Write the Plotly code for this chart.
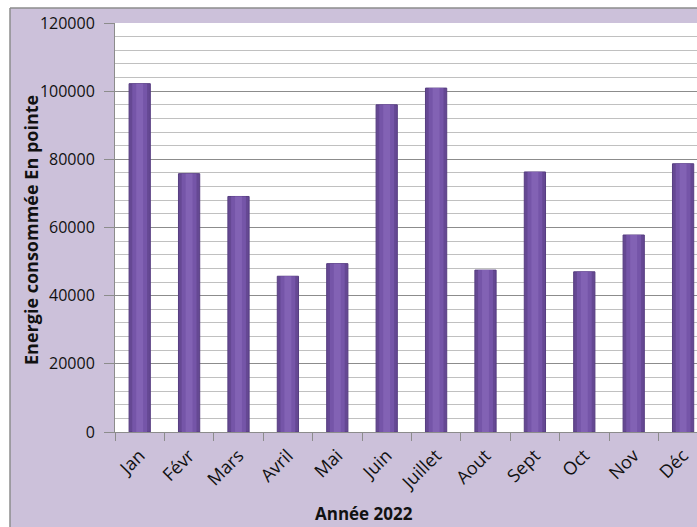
import plotly.graph_objects as go

# Monthly peak-hour energy consumption, 2022
months = ["Jan", "Févr", "Mars", "Avril", "Mai", "Juin", "Juillet",
          "Aout", "Sept", "Oct", "Nov", "Déc"]
energy = [102200, 75800, 69100, 45700, 49400, 96000, 100900,
          47500, 76300, 47000, 57800, 78700]
y_ticks = [0, 20000, 40000, 60000, 80000, 100000, 120000]
y_tick_text = [str(v) for v in y_ticks]

W, H = 697, 527
ML, MR, MT, MB = 115, 0, 23, 95
PW, PH = W - ML - MR, H - MT - MB


def px_x(x):
    return (x - ML) / PW


def px_y(y):
    return (H - MB - y) / PH


LAVENDER = "#CCC1DA"
FONT = "'Open Sans', Lato, sans-serif"

fig = go.Figure()

# layered bars give a rounded, shaded column look
for width, color, line in [(0.43, "#654893", "#563d80"),
                           (0.30, "#7555a8", None),
                           (0.14, "#8262b4", None)]:
    fig.add_trace(go.Bar(
        x=months, y=energy, width=width,
        marker=dict(color=color,
                    line=dict(color=line or color, width=1 if line else 0)),
        hoverinfo="skip" if line is None else None,
        showlegend=False,
    ))

fig.update_layout(
    width=W, height=H,
    margin=dict(l=ML, r=MR, t=MT, b=MB),
    paper_bgcolor=LAVENDER,
    plot_bgcolor="white",
    barmode="overlay",
    font=dict(family=FONT, size=16, color="#111111"),
    xaxis=dict(
        type="category",
        range=[-0.5, -0.5 + PW / 49.4],
        tickangle=-45,
        tickson="boundaries",
        ticks="outside", ticklen=8, tickcolor="#8c8c8c",
        ticklabelstandoff=5,
        showline=True, linecolor="#8c8c8c", linewidth=1,
        showgrid=False,
        tickfont=dict(size=18),
    ),
    yaxis=dict(
        range=[0, 120000],
        tickvals=y_ticks,
        ticktext=y_tick_text,
        ticks="outside", ticklen=10, tickcolor="#8c8c8c",
        ticklabelstandoff=6,
        showline=True, linecolor="#8c8c8c", linewidth=1,
        showgrid=True, gridcolor="#8c8c8c", gridwidth=1,
        zeroline=False,
        minor=dict(dtick=4000, showgrid=True, gridcolor="#c0c0c0",
                   gridwidth=1, ticks=""),
        tickfont=dict(size=16),
    ),
    shapes=[
        # white margin strips outside the chart frame
        dict(type="rect", xref="paper", yref="paper", layer="above",
             x0=px_x(0), x1=px_x(10), y0=px_y(H + 2), y1=px_y(0),
             fillcolor="white", line=dict(width=0)),
        dict(type="rect", xref="paper", yref="paper", layer="above",
             x0=px_x(0), x1=px_x(W + 2), y0=px_y(8), y1=px_y(0),
             fillcolor="white", line=dict(width=0)),
        # frame border
        dict(type="line", xref="paper", yref="paper",
             x0=px_x(10), x1=px_x(10), y0=px_y(H + 2), y1=px_y(8),
             line=dict(color="#8c8c8c", width=1.5)),
        dict(type="line", xref="paper", yref="paper",
             x0=px_x(10), x1=px_x(W + 2), y0=px_y(8), y1=px_y(8),
             line=dict(color="#8c8c8c", width=1.5)),
    ],
    annotations=[
        dict(text="<b>Energie consommée En pointe</b>", textangle=-90,
             xref="paper", yref="paper", x=px_x(31), y=px_y(230),
             xanchor="center", yanchor="middle", showarrow=False,
             font=dict(family=FONT, size=18, color="#111111")),
        dict(text="<b>Année 2022</b>",
             xref="paper", yref="paper", x=px_x(364), y=px_y(513),
             xanchor="center", yanchor="middle", showarrow=False,
             font=dict(family=FONT, size=17, color="#111111")),
    ],
)

fig.write_html("out.html")
